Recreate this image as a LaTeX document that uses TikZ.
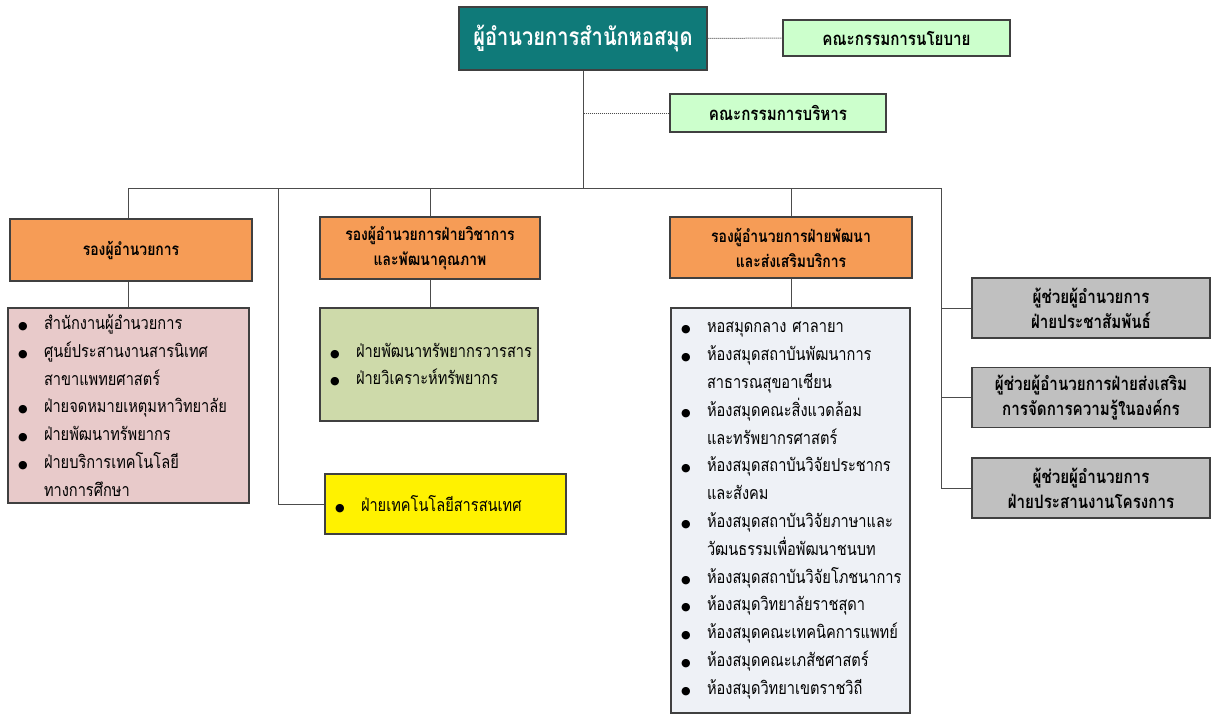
\documentclass[tikz,border=0pt]{standalone}
\usepackage{fontspec}
\setmainfont[Script=Thai,FakeStretch=0.82]{Loma}
\newfontfamily\dotfont{DejaVu Sans}
\usetikzlibrary{calc}
\definecolor{dirteal}{RGB}{15,122,121}
\definecolor{comgreen}{RGB}{204,255,204}
\definecolor{deporange}{RGB}{246,156,86}
\definecolor{lstpink}{RGB}{232,202,202}
\definecolor{lstolive}{RGB}{206,218,170}
\definecolor{lstblue}{RGB}{238,241,246}
\definecolor{asstgray}{RGB}{192,192,192}
\newcommand{\dirfont}{\bfseries\fontsize{24.5}{28}\selectfont}
\newcommand{\headfont}{\bfseries\fontsize{17}{25}\selectfont}
\newcommand{\bigheadfont}{\bfseries\fontsize{18.5}{25}\selectfont}
\newcommand{\listfont}{\fontsize{17.8}{27.8}\selectfont}
\newcommand{\itm}[1]{\makebox[26pt][l]{\dotfont\fontsize{11}{11}\selectfont ●}#1}
\newcommand{\cnt}[1]{\hspace*{26pt}#1}

\begin{document}
\begin{tikzpicture}[x=1pt,y=-1pt,
    box/.style={draw=black!75,line width=1.2pt,inner sep=0pt},
    head/.style={box,align=center,font=\headfont},
    bighead/.style={box,align=center,font=\bigheadfont},
    lst/.style={box,align=left,inner xsep=10pt,font=\listfont},
    link/.style={draw=black!70,line width=1pt},
    dotlink/.style={link,densely dotted}]
    \path[use as bounding box] (0,0) rectangle (1211,715);

    \node[box,fill=dirteal,text=white,font=\dirfont,minimum width=248,minimum height=63] (dir) at (583,38.5) {ผู้อำนวยการสำนักหอสมุด};
    \node[bighead,fill=comgreen,minimum width=227,minimum height=36] (policy) at (896.5,38) {คณะกรรมการนโยบาย};
    \node[bighead,fill=comgreen,minimum width=216,minimum height=38] (exec) at (778,113) {คณะกรรมการบริหาร};

    \node[head,fill=deporange,minimum width=242,minimum height=62] (dep1) at (131,250) {รองผู้อำนวยการ};
    \node[head,fill=deporange,minimum width=220,minimum height=62] (dep2) at (430,248) {รองผู้อำนวยการฝ่ายวิชาการ\\และพัฒนาคุณภาพ};
    \node[head,fill=deporange,minimum width=242,minimum height=61] (dep3) at (791,247.5) {รองผู้อำนวยการฝ่ายพัฒนา\\และส่งเสริมบริการ};

    \node[lst,fill=lstpink,text width=221,minimum height=195] (lst1) at (128.5,405.5) {%
        \itm{สำนักงานผู้อำนวยการ}\\
        \itm{ศูนย์ประสานงานสารนิเทศ}\\
        \cnt{สาขาแพทยศาสตร์}\\
        \itm{ฝ่ายจดหมายเหตุมหาวิทยาลัย}\\
        \itm{ฝ่ายพัฒนาทรัพยากร}\\
        \itm{ฝ่ายบริการเทคโนโลยี}\\
        \cnt{ทางการศึกษา}};
    \node[lst,fill=lstolive,text width=198,minimum height=113] (lst2) at (429,364.5) {%
        \itm{ฝ่ายพัฒนาทรัพยากรวารสาร}\\
        \itm{ฝ่ายวิเคราะห์ทรัพยากร}};
    \node[lst,fill=yellow,text width=221,minimum height=60] (tech) at (445.5,504) {%
        \itm{ฝ่ายเทคโนโลยีสารสนเทศ}};
    \node[lst,fill=lstblue,text width=219,minimum height=405] (lst3) at (790.5,510.5) {%
        \itm{หอสมุดกลาง ศาลายา}\\
        \itm{ห้องสมุดสถาบันพัฒนาการ}\\
        \cnt{สาธารณสุขอาเซียน}\\
        \itm{ห้องสมุดคณะสิ่งแวดล้อม}\\
        \cnt{และทรัพยากรศาสตร์}\\
        \itm{ห้องสมุดสถาบันวิจัยประชากร}\\
        \cnt{และสังคม}\\
        \itm{ห้องสมุดสถาบันวิจัยภาษาและ}\\
        \cnt{วัฒนธรรมเพื่อพัฒนาชนบท}\\
        \itm{ห้องสมุดสถาบันวิจัยโภชนาการ}\\
        \itm{ห้องสมุดวิทยาลัยราชสุดา}\\
        \itm{ห้องสมุดคณะเทคนิคการแพทย์}\\
        \itm{ห้องสมุดคณะเภสัชศาสตร์}\\
        \itm{ห้องสมุดวิทยาเขตราชวิถี}};

    \foreach \n/\y/\t in {1/308/{ผู้ช่วยผู้อำนวยการ\\ฝ่ายประชาสัมพันธ์},
                          2/397.5/{ผู้ช่วยผู้อำนวยการฝ่ายส่งเสริม\\การจัดการความรู้ในองค์กร},
                          3/488/{ผู้ช่วยผู้อำนวยการ\\ฝ่ายประสานงานโครงการ}} {
        \node[bighead,fill=asstgray,minimum width=238,minimum height=60] (asst\n) at (1091,\y) {\t};
    }

    \coordinate (b1) at (128,188);
    \coordinate (b2) at (278,188);
    \coordinate (b3) at (430,188);
    \coordinate (b4) at (791,188);
    \coordinate (b5) at (941,188);

    \draw[dotlink] (dir.east) -- (policy.west);
    \draw[dotlink] (exec.west) -- (exec.west -| dir.south);
    \draw[link] (dir.south) -- (dir.south |- b1);
    \draw[link] (b1) -- (b5);
    \foreach \b/\h/\l in {b1/dep1/lst1,b3/dep2/lst2,b4/dep3/lst3} {
        \draw[link] (\b) -- (\b |- \h.north);
        \draw[link] (\b |- \h.south) -- (\b |- \l.north);
    }
    \draw[link] (b2) |- (tech.west);
    \draw[link] (b5) |- (asst3.west);
    \foreach \n in {1,2} {
        \draw[link] (b5 |- asst\n.west) -- (asst\n.west);
    }
\end{tikzpicture}
\end{document}
